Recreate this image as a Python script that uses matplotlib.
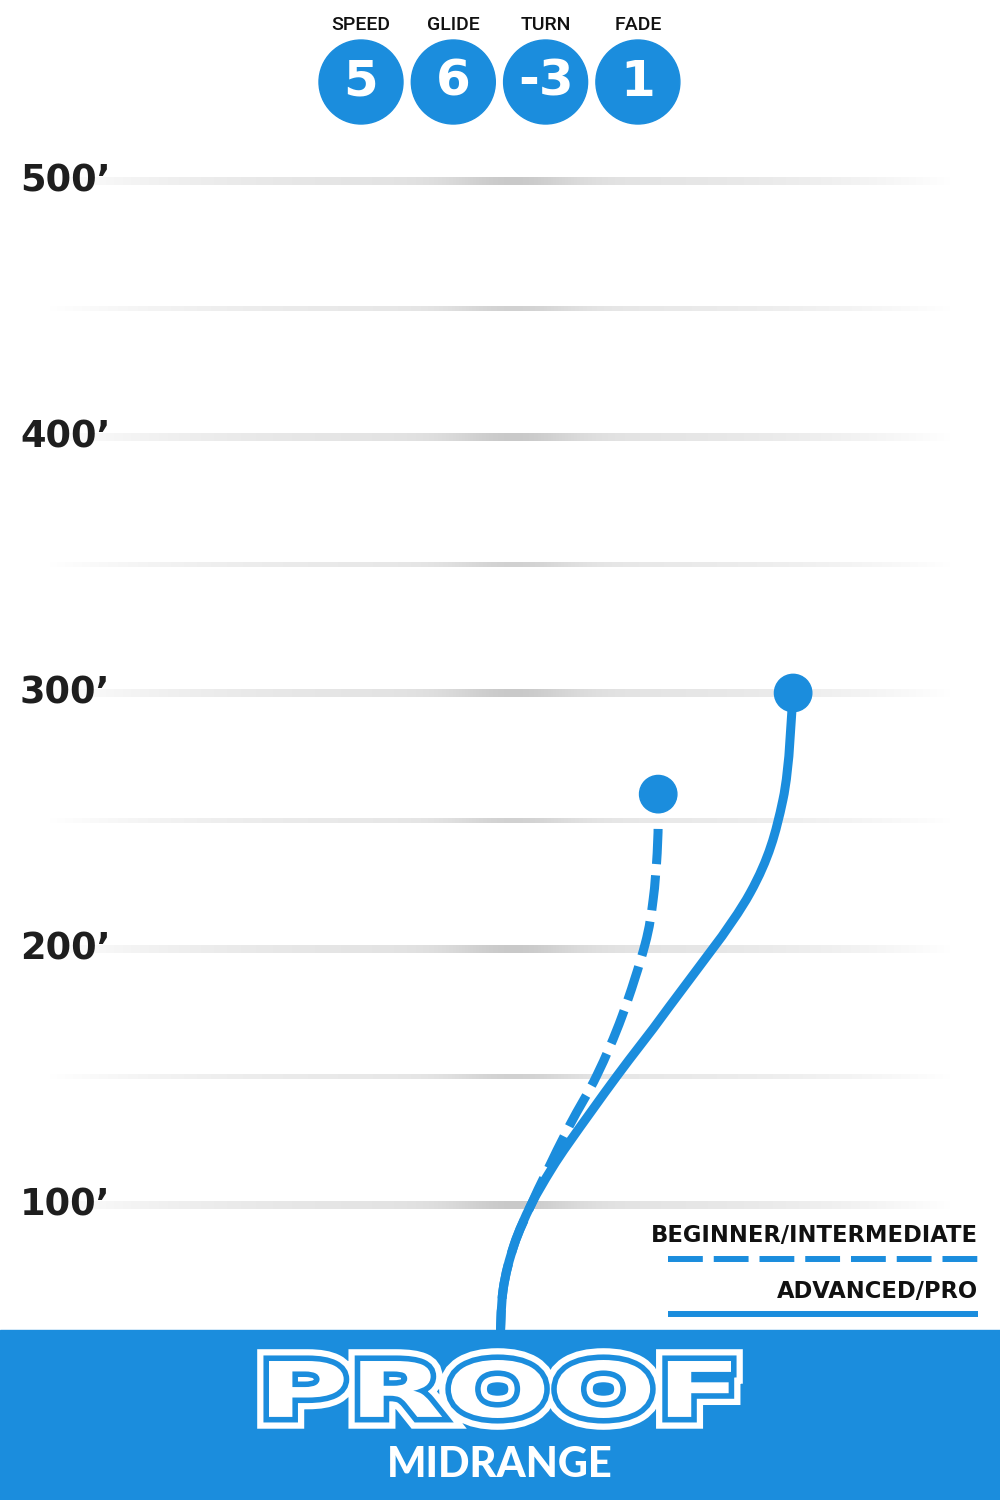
"""
Flight chart for the PROOF midrange disc
"""

import numpy as np
import matplotlib
matplotlib.use("Agg")
import matplotlib.pyplot as plt
from matplotlib.patches import Circle, Rectangle, PathPatch
from matplotlib.path import Path
from matplotlib.textpath import TextPath
from matplotlib.font_manager import FontProperties
from matplotlib.transforms import Affine2D, blended_transform_factory
import matplotlib.patheffects as pe

BLUE = '#1b8ddd'

# flight numbers
rating_names = ['SPEED', 'GLIDE', 'TURN', 'FADE']
rating_values = ['5', '6', '-3', '1']

# distance gridlines (feet)
major_ticks = [100, 200, 300, 400, 500]
minor_ticks = [150, 250, 350, 450]

# advanced/pro flight path: lateral offset (ft), distance (ft)
pro_x = [0, 1.2, 5.5, 12.1, 19.9, 27.7, 45.7, 66.0, 97.7, 110.5, 114.5]
pro_y = [45.3, 66.8, 84.4, 100.0, 113.7, 125.4, 150.4, 177.3, 221.9, 258.2, 300.0]

# beginner/intermediate flight path
beg_x = [0, 1.2, 5.5, 12.1, 18.0, 27.3, 37.9, 47.7, 56.6, 59.8, 61.4, 61.8]
beg_y = [45.3, 66.8, 84.4, 100.0, 112.5, 131.3, 150.8, 173.8, 201.6, 219.1, 237.5, 250.4]
beg_end = (61.8, 260.5)

legend_labels = ['BEGINNER/INTERMEDIATE', 'ADVANCED/PRO']
disc_name = 'PROOF'
disc_type = 'MIDRANGE'

fig = plt.figure(figsize=(10, 15), dpi=100)
fig.patch.set_facecolor('white')

# data axes: 2.56 px per foot both ways
ax = fig.add_axes([0, 0, 1, 1])
ax.axis('off')


def grid_line(y, height, strength):
    t = np.linspace(-1, 1, 600)
    d = 0.11 * (1 - np.abs(t) ** 2.5) + 0.10 * np.exp(-((t - 0.03) / 0.14) ** 2)
    d = np.clip(d * strength, 0, 1)
    row = np.repeat((1 - d)[None, :, None], 3, axis=2)
    ax.imshow(row, extent=[-176, 176, y - height / 2, y + height / 2],
              aspect='auto', interpolation='bilinear', zorder=1)


def smooth_path(xs, ys):
    # Catmull-Rom through the read points, drawn as cubic Bezier segments
    p = np.column_stack([xs, ys]).astype(float)
    ext = np.vstack([p[0], p, p[-1]])
    verts = [p[0]]
    codes = [Path.MOVETO]
    for i in range(len(p) - 1):
        a, b, c, d = ext[i], ext[i + 1], ext[i + 2], ext[i + 3]
        verts += [b + (c - a) / 6, c - (d - b) / 6, c]
        codes += [Path.CURVE4] * 3
    return Path(verts, codes)


for v in major_ticks:
    grid_line(v, 3.0, 1.0)
for v in minor_ticks:
    grid_line(v, 1.6, 0.85)

lab_tr = blended_transform_factory(ax.transAxes, ax.transData)
for v in major_ticks:
    ax.text(0.02, v, f'{v}\u2019', transform=lab_tr, ha='left', va='center',
            fontsize=26.5, fontfamily='DejaVu Sans', fontweight='bold', color='#1e1e1e', zorder=4)

# flight paths
ax.add_patch(PathPatch(smooth_path(pro_x, pro_y), fill=False, edgecolor=BLUE, lw=6.5,
                       capstyle='butt', joinstyle='round', zorder=3))
ax.add_patch(PathPatch(smooth_path(beg_x, beg_y), fill=False, edgecolor=BLUE, lw=6.5,
                       linestyle=(0, (3.9, 1.25)), capstyle='butt', zorder=3))
ax.add_patch(Circle((pro_x[-1], pro_y[-1]), 7.3, color=BLUE, zorder=3))
ax.add_patch(Circle(beg_end, 7.3, color=BLUE, zorder=3))

ax.set_xlim(-500 / 2.56, 500 / 2.56)
ax.set_ylim(100 - 295 / 2.56, 100 + 1205 / 2.56)

# overlay in pixel units for the decorations
ov = fig.add_axes([0, 0, 1, 1])
ov.axis('off')
ov.set_xlim(0, 1000)
ov.set_ylim(1500, 0)

# flight number bubbles
for i, (name, val) in enumerate(zip(rating_names, rating_values)):
    cx = 361 + i * 92.3
    ov.text(cx, 25, name, ha='center', va='center', fontsize=14,
            fontfamily='Roboto', fontweight='medium', color='#111111')
    ov.add_patch(Circle((cx, 82), 42, color=BLUE))
    ov.text(cx, 82, val, ha='center', va='center', fontsize=36,
            fontfamily='DejaVu Sans', fontweight='bold', color='white')

# legend
ov.text(978, 1236, legend_labels[0], ha='right', va='center', fontsize=16.3,
        fontfamily='DejaVu Sans', fontweight='bold', color='#111111')
ov.plot([668, 978], [1259, 1259], color=BLUE, lw=4.3, ls=(0, (5.83, 1.83)), dash_capstyle='butt')
ov.text(978, 1291, legend_labels[1], ha='right', va='center', fontsize=16.3,
        fontfamily='DejaVu Sans', fontweight='bold', color='#111111')
ov.plot([668, 978], [1314, 1314], color=BLUE, lw=4.3, solid_capstyle='butt')

# bottom band
ov.add_patch(Rectangle((0, 1330), 1000, 170, color=BLUE, zorder=5))
ov.text(500, 1465, disc_type, ha='center', va='center', fontsize=30,
        fontfamily='Lato', fontweight='black', color='white', zorder=6)

# disc name logo: stretched heavy text with a blue then white outline
tp = TextPath((0, 0), disc_name, size=1, prop=FontProperties(family='DejaVu Sans', weight='bold'))
bb = tp.get_extents()
sx = 462 / bb.width
sy = 58 / bb.height
tr = Affine2D().translate(-bb.x0, -bb.y0).scale(sx, -sy).translate(269, 1418)
logo = PathPatch(tr.transform_path(tp), facecolor='white', edgecolor='none', zorder=6)
logo.set_path_effects([
    pe.Stroke(linewidth=17, foreground='white', joinstyle='miter'),
    pe.Stroke(linewidth=8, foreground=BLUE, joinstyle='miter'),
    pe.Normal(),
])
ov.add_patch(logo)

fig.savefig('out.png', dpi=100, facecolor='white')
